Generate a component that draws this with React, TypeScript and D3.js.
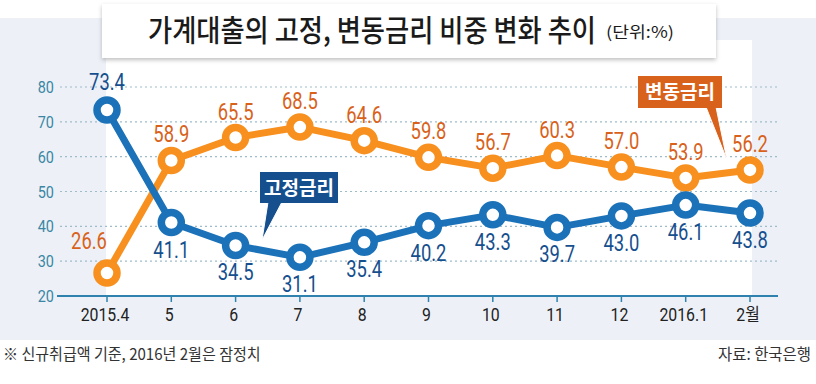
import React, { useRef, useEffect } from "react";
import * as d3 from "d3";

const months = ["2015.4", "5", "6", "7", "8", "9", "10", "11", "12", "2016.1", "2월"];
const floating = [26.6, 58.9, 65.5, 68.5, 64.6, 59.8, 56.7, 60.3, 57.0, 53.9, 56.2];
const fixed = [73.4, 41.1, 34.5, 31.1, 35.4, 40.2, 43.3, 39.7, 43.0, 46.1, 43.8];
const yTicks = [20, 30, 40, 50, 60, 70, 80];

const ORANGE = "#f7901e";
const ORANGE_DARK = "#d8621b";
const BLUE = "#1b72b8";
const BLUE_DARK = "#164f8e";

const W = 816,
  H = 384;

type Sel = d3.Selection<SVGSVGElement | null, unknown, null, undefined>;

// squeeze a text horizontally so it spans `width` pixels
const fitText = (svg: Sel, tx: number, ty: number, width: number, size: number, weight: number, label: string) => {
  const t = svg
    .append("text")
    .style("font-family", "'Noto Sans CJK KR', sans-serif")
    .style("font-size", `${size}px`)
    .style("font-weight", weight)
    .style("fill", "#1a1a1a")
    .text(label);
  const natural = (t.node() as SVGTextElement).getComputedTextLength() || width;
  t.attr("transform", `translate(${tx},${ty}) scale(${width / natural},1)`);
  return t;
};

const App: React.FC = () => {
  const ref = useRef<SVGSVGElement>(null);

  useEffect(() => {
    document.body.style.margin = "0";
    const svg = d3.select(ref.current) as Sel;
    svg.selectAll("*").remove();

    const x = d3.scalePoint<string>().domain(months).range([107, 750]);
    const y = d3.scaleLinear().domain([20, 80]).range([296, 87]);

    // background panels
    svg.append("rect").attr("x", 0).attr("y", 18).attr("width", W).attr("height", 322).attr("fill", "#edf1f7");
    svg.append("rect").attr("x", 106).attr("y", 40).attr("width", 646).attr("height", 256).attr("fill", "#ffffff");

    // title box
    const defs = svg.append("defs");
    const f = defs.append("filter").attr("id", "sh").attr("x", "-5%").attr("y", "-20%").attr("width", "110%").attr("height", "150%");
    f.append("feDropShadow").attr("dx", 0).attr("dy", 2).attr("stdDeviation", 2).attr("flood-color", "#000").attr("flood-opacity", 0.25);
    svg.append("rect").attr("x", 102).attr("y", 4).attr("width", 614).attr("height", 54).attr("fill", "#fff").attr("filter", "url(#sh)");
    fitText(svg, 148, 41, 448, 30, 500, "가계대출의 고정, 변동금리 비중 변화 추이");
    fitText(svg, 606, 38, 68, 16, 400, "(단위:%)");

    // grid
    svg
      .append("g")
      .selectAll("line")
      .data(yTicks.slice(1))
      .enter()
      .append("line")
      .attr("x1", 60)
      .attr("x2", 778)
      .attr("y1", (d) => y(d))
      .attr("y2", (d) => y(d))
      .attr("stroke", "#9fbccb")
      .attr("stroke-width", 1.2)
      .attr("stroke-dasharray", "2,3");

    // y labels (condensed)
    svg
      .append("g")
      .selectAll("text")
      .data(yTicks)
      .enter()
      .append("text")
      .attr("transform", (d) => `translate(54,${y(d) + 6}) scale(0.85,1)`)
      .attr("text-anchor", "end")
      .style("font-family", "Roboto, sans-serif")
      .style("font-size", "17px")
      .style("fill", "#3a86a3")
      .text((d) => d);

    // x axis
    svg.append("line").attr("x1", 57).attr("x2", 778).attr("y1", 296).attr("y2", 296).attr("stroke", "#2f82ad").attr("stroke-width", 2);
    const xt = svg.append("g").selectAll("g").data(months).enter().append("g");
    xt.append("line")
      .attr("x1", (d) => x(d)!)
      .attr("x2", (d) => x(d)!)
      .attr("y1", 296)
      .attr("y2", 302)
      .attr("stroke", "#2f82ad")
      .attr("stroke-width", 1.5);
    xt.append("text")
      .attr("transform", (d) => `translate(${x(d)! - 2},321) scale(0.88,1)`)
      .attr("text-anchor", "middle")
      .style("font-family", "Roboto, 'Noto Sans CJK KR', sans-serif")
      .style("font-size", "18px")
      .style("fill", "#222")
      .text((d) => d);

    const line = d3
      .line<number>()
      .x((_, i) => x(months[i])!)
      .y((d) => y(d));

    // callout pointers & boxes
    const callout = (bx: number, by: number, bw: number, bh: number, tip: [number, number], base: [number, number], color: string, label: string) => {
      svg
        .append("path")
        .attr("d", `M${base[0]},${by + bh - 1} L${tip[0]},${tip[1]} L${base[1]},${by + bh - 1} Z`)
        .attr("fill", color)
        .attr("stroke", "#fff")
        .attr("stroke-width", 1);
      svg.append("rect").attr("x", bx).attr("y", by).attr("width", bw).attr("height", bh).attr("fill", color);
      svg
        .append("text")
        .attr("x", bx + bw / 2)
        .attr("y", by + bh / 2 + 7)
        .attr("text-anchor", "middle")
        .style("font-family", "'Noto Sans CJK KR', sans-serif")
        .style("font-size", "19px")
        .style("font-weight", 700)
        .style("fill", "#fff")
        .text(label);
    };

    const drawSeries = (vals: number[], color: string) => {
      svg.append("path").datum(vals).attr("fill", "none").attr("stroke", color).attr("stroke-width", 7).attr("stroke-linejoin", "round").attr("d", line);
      svg
        .append("g")
        .selectAll("circle")
        .data(vals)
        .enter()
        .append("circle")
        .attr("cx", (_, i) => x(months[i])!)
        .attr("cy", (d) => y(d))
        .attr("r", 10)
        .attr("fill", "#fff")
        .attr("stroke", color)
        .attr("stroke-width", 7.5);
    };

    callout(260, 172, 78, 31, [262, 240], [268, 282], BLUE_DARK, "고정금리");
    callout(638, 76, 84, 32, [727, 160], [706, 716], ORANGE_DARK, "변동금리");

    drawSeries(floating, ORANGE);
    drawSeries(fixed, BLUE);

    const valueLabels = (vals: number[], color: string, dx: (i: number) => number, dy: (i: number) => number) =>
      svg
        .append("g")
        .selectAll("text")
        .data(vals)
        .enter()
        .append("text")
        .attr("transform", (d, i) => `translate(${x(months[i])! + dx(i)},${y(d) + dy(i)}) scale(0.8,1)`)
        .attr("text-anchor", "middle")
        .style("font-family", "Roboto, sans-serif")
        .style("font-size", "23px")
        .style("fill", color)
        .text((d) => d.toFixed(1));

    valueLabels(floating, ORANGE_DARK, (i) => (i === 0 ? -18 : 0), (i) => (i === 0 ? -24 : -18));
    valueLabels(fixed, BLUE_DARK, () => 0, (i) => (i === 0 ? -20 : 35));

    // footer
    fitText(svg, 3, 360, 258, 16, 400, "※ 신규취급액 기준, 2016년 2월은 잠정치").style("fill", "#333");
    fitText(svg, 718, 360, 93, 16, 400, "자료: 한국은행").style("fill", "#333");
  }, []);

  return <svg ref={ref} width={W} height={H} style={{ display: "block" }} />;
};

export default App;
